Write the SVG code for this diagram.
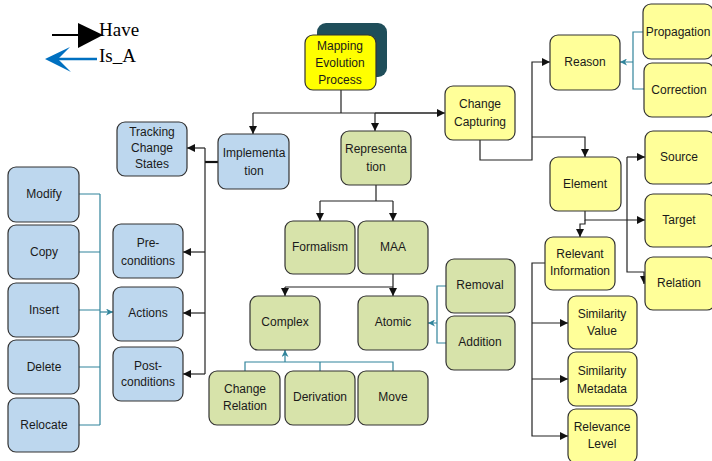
<svg xmlns="http://www.w3.org/2000/svg" width="712" height="461" viewBox="0 0 712 461">
<style>
.n{stroke:#333;stroke-width:1.2}
.b{fill:#bdd7ee}
.g{fill:#d7e3aa}
.y{fill:#ffff99}
text{font-family:"Liberation Sans",Arial,sans-serif;font-size:12px;fill:#1a1a1a;text-anchor:middle}
.c{fill:none;stroke:#222;stroke-width:1.2}
.t{fill:none;stroke:#31849b;stroke-width:1.2}
.lg{font-family:"Liberation Serif","Times New Roman",serif;font-size:19px;fill:#000;text-anchor:start}
</style>
<defs>
<marker id="ab" markerUnits="userSpaceOnUse" markerWidth="8" markerHeight="8" refX="8" refY="4" orient="auto"><path d="M0,0 L8,4 L0,8 z" fill="#111"/></marker>
<marker id="at" markerUnits="userSpaceOnUse" markerWidth="7" markerHeight="7" refX="7" refY="3.5" orient="auto"><path d="M0,0 L7,3.5 L0,7 L2,3.5 z" fill="#31849b"/></marker>
</defs>
<g id="legend">
<line x1="52" y1="35" x2="79" y2="35" stroke="#000" stroke-width="2"/>
<path d="M78,23 L103,35 L78,48 z" fill="#000"/>
<text class="lg" x="99" y="36">Have</text>
<line x1="97" y1="59" x2="50" y2="59" stroke="#0070c0" stroke-width="2.5"/>
<path d="M45,59 L70,47 L58,59 L71,72 z" fill="#0070c0"/>
<text class="lg" x="99" y="62">Is_A</text>
</g>
<g id="connectors">
<path class="c" d="M341,90 V113 M253,113 H443"/>
<path class="c" d="M253,113 V134" marker-end="url(#ab)"/>
<path class="c" d="M375,113 V131" marker-end="url(#ab)"/>
<path class="c" d="M375,113 H445" marker-end="url(#ab)"/>
<path class="c" d="M480,140 V160 H532 V62 H550" marker-end="url(#ab)"/>
<path class="c" d="M532,137 H585 V157" marker-end="url(#ab)"/>
<path class="t" d="M643,32 H633 V89 H644 M633,62 H620" marker-end="url(#at)"/>
<path class="c" d="M585,211 V220 H645" marker-end="url(#ab)"/>
<path class="c" d="M585,220 V224 H580 V237" marker-end="url(#ab)"/>
<path class="c" d="M627,157 H645" marker-end="url(#ab)"/>
<path class="c" d="M627,157 V272 H644 V284" marker-end="url(#ab)"/>
<path class="c" d="M545,263 H532 V436 H568" marker-end="url(#ab)"/>
<path class="c" d="M532,323 H568" marker-end="url(#ab)"/>
<path class="c" d="M532,379 H568" marker-end="url(#ab)"/>
<path fill="none" stroke="#111" stroke-width="2.2" d="M218,162 H205"/>
<path class="c" d="M205,148 V374"/>
<path class="c" d="M205,148 H187" marker-end="url(#ab)"/>
<path class="c" d="M205,252 H183" marker-end="url(#ab)"/>
<path class="c" d="M205,313 H183" marker-end="url(#ab)"/>
<path class="c" d="M205,374 H183" marker-end="url(#ab)"/>
<path class="t" d="M79,194 H100 M79,252 H100 M79,310 H100 M79,367 H100 M79,425 H100 M100,194 V425"/>
<path class="t" d="M100,312 H113" marker-end="url(#at)"/>
<path class="c" d="M376,185 V201 M320,201 H393"/>
<path class="c" d="M320,201 V221" marker-end="url(#ab)"/>
<path class="c" d="M393,201 V221" marker-end="url(#ab)"/>
<path class="c" d="M393,274 V287 M285,287 H393"/>
<path class="c" d="M285,287 V296" marker-end="url(#ab)"/>
<path class="c" d="M393,287 V296" marker-end="url(#ab)"/>
<path class="t" d="M446,286 H437 V343 H446 M437,323 H428" marker-end="url(#at)"/>
<path class="t" d="M245,371 V362 H393 V371 M320,362 V371"/>
<path class="t" d="M285,362 V350" marker-end="url(#at)"/>
</g>
<g id="mapping">
<rect x="317" y="23" width="70" height="54" rx="9" fill="#1f4e5a"/>
<rect class="n" x="305" y="35" width="71" height="55" rx="8" fill="#ffff00"/>
<text x="340" y="50">Mapping</text><text x="340" y="67">Evolution</text><text x="340" y="84">Process</text>
</g>
<g id="implementation"><rect class="n b" x="218" y="134" width="71" height="55" rx="8"/><text x="254" y="157">Implementa</text><text x="254" y="175">tion</text></g>
<g id="representation"><rect class="n g" x="341" y="131" width="70" height="54" rx="8"/><text x="376" y="153">Representa</text><text x="376" y="171">tion</text></g>
<g id="change-capturing"><rect class="n y" x="445" y="86" width="70" height="54" rx="8"/><text x="480" y="108">Change</text><text x="480" y="126">Capturing</text></g>
<g id="reason"><rect class="n y" x="550" y="35" width="70" height="55" rx="8"/><text x="585" y="66">Reason</text></g>
<g id="propagation"><rect class="n y" x="643" y="4" width="70" height="55" rx="8"/><text x="678" y="36">Propagation</text></g>
<g id="correction"><rect class="n y" x="644" y="63" width="70" height="54" rx="8"/><text x="679" y="94">Correction</text></g>
<g id="element"><rect class="n y" x="550" y="157" width="71" height="54" rx="8"/><text x="585" y="188">Element</text></g>
<g id="source"><rect class="n y" x="645" y="131" width="70" height="53" rx="8"/><text x="679" y="161">Source</text></g>
<g id="target"><rect class="n y" x="645" y="194" width="70" height="53" rx="8"/><text x="679" y="224">Target</text></g>
<g id="relation"><rect class="n y" x="645" y="257" width="70" height="53" rx="8"/><text x="679" y="287">Relation</text></g>
<g id="relevant-information"><rect class="n y" x="545" y="237" width="70" height="53" rx="8"/><text x="580" y="258">Relevant</text><text x="580" y="275">Information</text></g>
<g id="similarity-value"><rect class="n y" x="568" y="296" width="69" height="53" rx="8"/><text x="602" y="318">Similarity</text><text x="602" y="335">Value</text></g>
<g id="similarity-metadata"><rect class="n y" x="568" y="352" width="69" height="54" rx="8"/><text x="602" y="375">Similarity</text><text x="602" y="393">Metadata</text></g>
<g id="relevance-level"><rect class="n y" x="568" y="409" width="69" height="54" rx="8"/><text x="602" y="431">Relevance</text><text x="602" y="448">Level</text></g>
<g id="tracking"><rect class="n b" x="117" y="122" width="70" height="54" rx="8"/><text x="152" y="136">Tracking</text><text x="152" y="152">Change</text><text x="152" y="168">States</text></g>
<g id="pre-conditions"><rect class="n b" x="113" y="224" width="70" height="54" rx="8"/><text x="148" y="247">Pre-</text><text x="148" y="265">conditions</text></g>
<g id="actions"><rect class="n b" x="113" y="287" width="70" height="54" rx="8"/><text x="148" y="317">Actions</text></g>
<g id="post-conditions"><rect class="n b" x="113" y="347" width="70" height="54" rx="8"/><text x="148" y="370">Post-</text><text x="148" y="386">conditions</text></g>
<g id="modify"><rect class="n b" x="8" y="167" width="71" height="55" rx="8"/><text x="44" y="198">Modify</text></g>
<g id="copy"><rect class="n b" x="8" y="225" width="71" height="54" rx="8"/><text x="44" y="256">Copy</text></g>
<g id="insert"><rect class="n b" x="8" y="283" width="71" height="54" rx="8"/><text x="44" y="314">Insert</text></g>
<g id="delete"><rect class="n b" x="8" y="340" width="71" height="54" rx="8"/><text x="44" y="371">Delete</text></g>
<g id="relocate"><rect class="n b" x="8" y="398" width="71" height="54" rx="8"/><text x="44" y="429">Relocate</text></g>
<g id="formalism"><rect class="n g" x="285" y="221" width="70" height="53" rx="8"/><text x="320" y="251">Formalism</text></g>
<g id="maa"><rect class="n g" x="358" y="221" width="70" height="53" rx="8"/><text x="393" y="251">MAA</text></g>
<g id="complex"><rect class="n g" x="250" y="296" width="70" height="54" rx="8"/><text x="285" y="326">Complex</text></g>
<g id="atomic"><rect class="n g" x="358" y="296" width="70" height="54" rx="8"/><text x="393" y="326">Atomic</text></g>
<g id="removal"><rect class="n g" x="446" y="259" width="69" height="54" rx="8"/><text x="480" y="289">Removal</text></g>
<g id="addition"><rect class="n g" x="446" y="316" width="69" height="54" rx="8"/><text x="480" y="346">Addition</text></g>
<g id="change-relation"><rect class="n g" x="209" y="371" width="71" height="54" rx="8"/><text x="245" y="393">Change</text><text x="245" y="410">Relation</text></g>
<g id="derivation"><rect class="n g" x="285" y="371" width="70" height="54" rx="8"/><text x="320" y="401">Derivation</text></g>
<g id="move"><rect class="n g" x="358" y="371" width="70" height="54" rx="8"/><text x="393" y="401">Move</text></g>
</svg>
